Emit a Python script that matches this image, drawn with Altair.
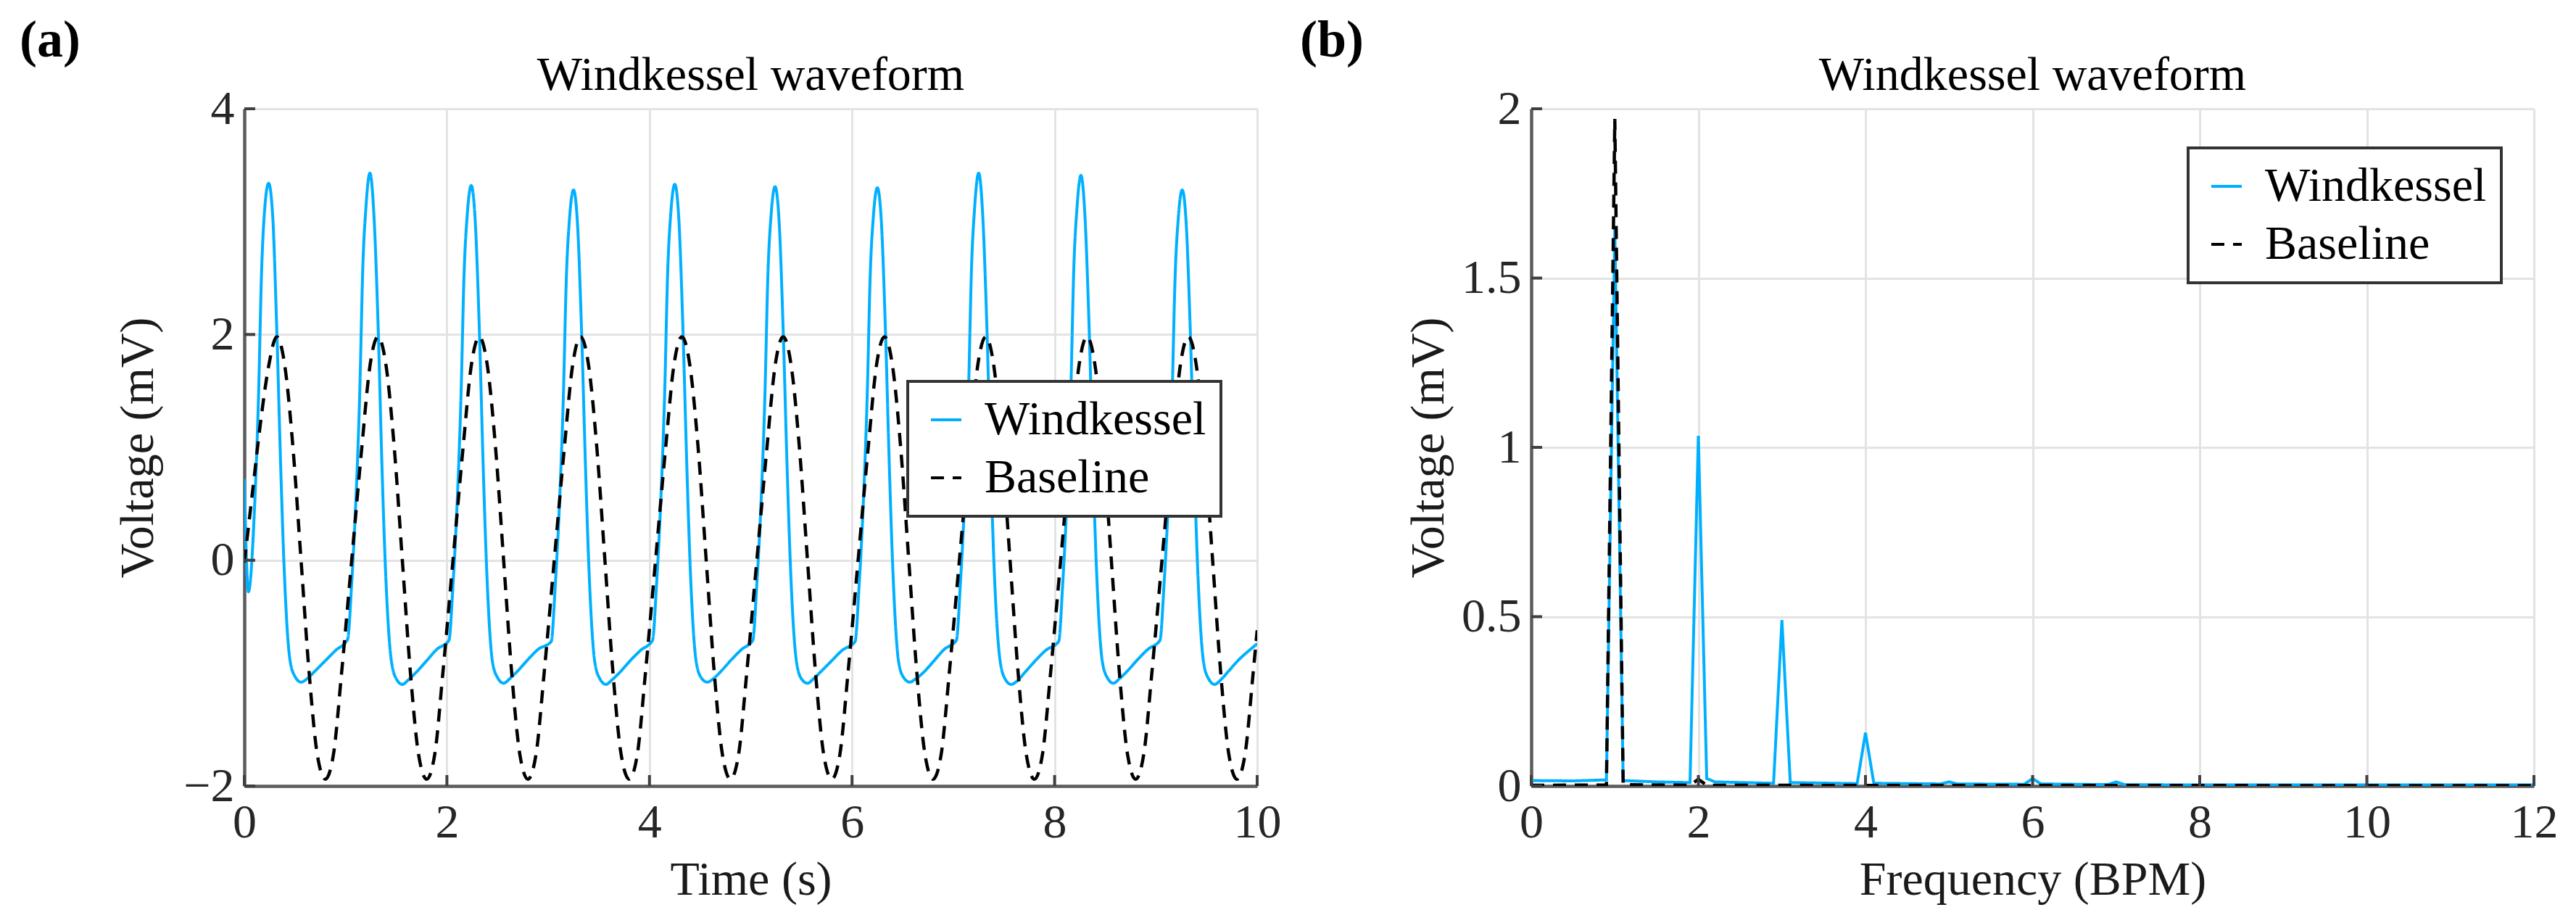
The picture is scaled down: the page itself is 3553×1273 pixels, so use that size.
import altair as alt
import pandas as pd

# ---------------- data ----------------
panel_labels = ["(a)", "(b)"]
panel_titles = ["Windkessel waveform", "Windkessel waveform"]
series_names = ["Windkessel", "Baseline"]

# (a) time-domain Windkessel waveform
wk_t = [0.00, 0.04, 0.10, 0.14, 0.17, 0.20, 0.24, 0.28, 0.32, 0.36, 0.39, 0.45, 0.50, 0.56, 0.62, 0.70, 0.80, 0.90,
        1.02, 1.06, 1.10, 1.14, 1.17, 1.20, 1.24, 1.28, 1.32, 1.36, 1.39, 1.45, 1.50, 1.56, 1.62, 1.70, 1.80, 1.90,
        2.02, 2.06, 2.10, 2.14, 2.17, 2.20, 2.24, 2.28, 2.32, 2.36, 2.39, 2.45, 2.50, 2.56, 2.62, 2.70, 2.80, 2.90,
        3.03, 3.07, 3.11, 3.15, 3.18, 3.21, 3.25, 3.29, 3.33, 3.37, 3.40, 3.46, 3.51, 3.57, 3.63, 3.71, 3.81, 3.91,
        4.03, 4.07, 4.11, 4.15, 4.18, 4.21, 4.25, 4.29, 4.33, 4.37, 4.40, 4.46, 4.51, 4.57, 4.63, 4.71, 4.81, 4.91,
        5.02, 5.06, 5.10, 5.14, 5.17, 5.20, 5.24, 5.28, 5.32, 5.36, 5.39, 5.45, 5.50, 5.56, 5.62, 5.70, 5.80, 5.90,
        6.03, 6.07, 6.11, 6.15, 6.18, 6.21, 6.25, 6.29, 6.33, 6.37, 6.40, 6.46, 6.51, 6.57, 6.63, 6.71, 6.81, 6.91,
        7.03, 7.07, 7.11, 7.15, 7.18, 7.21, 7.25, 7.29, 7.33, 7.37, 7.40, 7.46, 7.51, 7.57, 7.63, 7.71, 7.81, 7.91,
        8.04, 8.08, 8.12, 8.16, 8.19, 8.22, 8.26, 8.30, 8.34, 8.38, 8.41, 8.47, 8.52, 8.58, 8.64, 8.72, 8.82, 8.92,
        9.04, 9.08, 9.12, 9.16, 9.19, 9.22, 9.26, 9.30, 9.34, 9.38, 9.41, 9.47, 9.52, 9.58, 9.64, 9.72, 9.82, 9.92,
        10.00]
wk_v = [0.72, -0.28, 0.45, 1.45, 2.55, 3.10, 3.34, 3.05, 2.05, 0.80, 0.00, -0.88, -1.03, -1.08, -1.05, -0.98, -0.89, -0.80,
        -0.70, -0.20, 0.50, 1.50, 2.60, 3.12, 3.43, 3.05, 2.10, 0.80, 0.00, -0.88, -1.05, -1.10, -1.06, -0.99, -0.89, -0.79,
        -0.71, -0.22, 0.48, 1.48, 2.55, 3.05, 3.32, 3.00, 2.05, 0.78, -0.02, -0.90, -1.04, -1.09, -1.05, -0.98, -0.88, -0.79,
        -0.72, -0.22, 0.47, 1.46, 2.52, 3.02, 3.28, 2.97, 2.02, 0.78, -0.02, -0.90, -1.05, -1.10, -1.06, -0.99, -0.89, -0.80,
        -0.71, -0.21, 0.49, 1.48, 2.56, 3.07, 3.33, 3.02, 2.06, 0.80, -0.01, -0.89, -1.04, -1.08, -1.05, -0.98, -0.88, -0.79,
        -0.71, -0.21, 0.48, 1.47, 2.55, 3.05, 3.31, 3.00, 2.04, 0.79, -0.01, -0.89, -1.05, -1.09, -1.05, -0.98, -0.89, -0.80,
        -0.72, -0.22, 0.48, 1.47, 2.54, 3.04, 3.30, 2.99, 2.03, 0.78, -0.02, -0.90, -1.04, -1.08, -1.05, -0.99, -0.89, -0.79,
        -0.71, -0.20, 0.50, 1.50, 2.60, 3.12, 3.43, 3.06, 2.10, 0.82, 0.00, -0.88, -1.05, -1.10, -1.07, -0.99, -0.89, -0.80,
        -0.72, -0.21, 0.50, 1.50, 2.60, 3.11, 3.41, 3.04, 2.08, 0.81, 0.00, -0.89, -1.04, -1.09, -1.05, -0.98, -0.88, -0.79,
        -0.71, -0.22, 0.47, 1.46, 2.52, 3.02, 3.28, 2.97, 2.02, 0.78, -0.02, -0.90, -1.05, -1.10, -1.06, -0.98, -0.88, -0.80,
        -0.74]

# (a) time-domain baseline (dashed)
base_t = [0.00, 0.08, 0.16, 0.24, 0.32, 0.40, 0.48, 0.56, 0.64, 0.72, 0.80, 0.88, 0.96,
          1.06, 1.16, 1.24, 1.32, 1.40, 1.48, 1.56, 1.64, 1.72, 1.80, 1.88, 1.96,
          2.06, 2.16, 2.24, 2.32, 2.40, 2.48, 2.56, 2.64, 2.72, 2.80, 2.88, 2.96,
          3.06, 3.16, 3.24, 3.32, 3.40, 3.48, 3.56, 3.64, 3.72, 3.80, 3.88, 3.96,
          4.06, 4.16, 4.24, 4.32, 4.40, 4.48, 4.56, 4.64, 4.72, 4.80, 4.88, 4.96,
          5.06, 5.16, 5.24, 5.32, 5.40, 5.48, 5.56, 5.64, 5.72, 5.80, 5.88, 5.96,
          6.06, 6.16, 6.24, 6.32, 6.40, 6.48, 6.56, 6.64, 6.72, 6.80, 6.88, 6.96,
          7.06, 7.16, 7.24, 7.32, 7.40, 7.48, 7.56, 7.64, 7.72, 7.80, 7.88, 7.96,
          8.06, 8.16, 8.24, 8.32, 8.40, 8.48, 8.56, 8.64, 8.72, 8.80, 8.88, 8.96,
          9.06, 9.16, 9.24, 9.32, 9.40, 9.48, 9.56, 9.64, 9.72, 9.80, 9.88, 9.96,
          10.00]
base_v = [-0.02, 0.60, 1.22, 1.72, 1.98, 1.72, 1.00, 0.00, -1.00, -1.72, -1.94, -1.72, -1.00,
          0.00, 1.00, 1.72, 1.98, 1.72, 1.00, 0.00, -1.00, -1.72, -1.94, -1.72, -1.00,
          0.00, 1.00, 1.72, 1.98, 1.72, 1.00, 0.00, -1.00, -1.72, -1.94, -1.72, -1.00,
          0.00, 1.00, 1.72, 1.98, 1.72, 1.00, 0.00, -1.00, -1.72, -1.94, -1.72, -1.00,
          0.00, 1.00, 1.72, 1.98, 1.72, 1.00, 0.00, -1.00, -1.72, -1.94, -1.72, -1.00,
          0.00, 1.00, 1.72, 1.98, 1.72, 1.00, 0.00, -1.00, -1.72, -1.94, -1.72, -1.00,
          0.00, 1.00, 1.72, 1.98, 1.72, 1.00, 0.00, -1.00, -1.72, -1.94, -1.72, -1.00,
          0.00, 1.00, 1.72, 1.98, 1.72, 1.00, 0.00, -1.00, -1.72, -1.94, -1.72, -1.00,
          0.00, 1.00, 1.72, 1.98, 1.72, 1.00, 0.00, -1.00, -1.72, -1.94, -1.72, -1.00,
          0.00, 1.00, 1.72, 1.98, 1.72, 1.00, 0.00, -1.00, -1.72, -1.94, -1.72, -1.00,
          -0.62]

# (b) spectrum
wk_f = [0.0, 0.5, 0.9, 1.0, 1.1, 1.5, 1.9, 2.0, 2.1, 2.2, 2.9, 3.0, 3.1, 3.9, 4.0, 4.1,
        4.9, 5.0, 5.1, 5.9, 6.0, 6.1, 6.9, 7.0, 7.1, 8.0, 9.0, 10.0, 11.0, 12.0]
wk_mag = [0.016, 0.015, 0.018, 1.645, 0.016, 0.012, 0.010, 1.034, 0.022, 0.012, 0.008, 0.490, 0.010, 0.007, 0.157, 0.008,
          0.006, 0.012, 0.006, 0.005, 0.022, 0.006, 0.004, 0.012, 0.004, 0.003, 0.003, 0.003, 0.003, 0.003]
base_f = [0.0, 0.9, 1.0, 1.1, 1.9, 2.0, 2.1, 12.0]
base_mag = [0.002, 0.003, 1.97, 0.004, 0.002, 0.020, 0.002, 0.001]

# axis ticks
a_xticks = [0, 2, 4, 6, 8, 10]
a_yticks = [-2, 0, 2, 4]
b_xticks = [0, 2, 4, 6, 8, 10, 12]
b_yticks = [0, 0.5, 1, 1.5, 2]

# ---------------- styling ----------------
BLUE = "#00b0ff"
FONT = "Liberation Serif"
FS = 66
H = 934


def make_panel(wkx, wky, bx, by, xdom, ydom, xticks, yticks, w, xtitle, tag, title, tag_dx,
               legx, legy, ytitle_x):
    wk_df = pd.DataFrame({"x": wkx, "y": wky, "series": series_names[0]})
    base_df = pd.DataFrame({"x": bx, "y": by, "series": series_names[1]})
    yt_df = pd.DataFrame({"y": yticks})
    xt_df = pd.DataFrame({"x": xticks})
    tag_df = pd.DataFrame({"label": [tag]})
    title_df = pd.DataFrame({"label": [title]})

    xs = alt.Scale(domain=xdom, nice=False, zero=False)
    ys = alt.Scale(domain=ydom, nice=False, zero=False)
    leg = alt.Legend(title=None, orient="none", legendX=legx, legendY=legy,
                     symbolType="stroke", symbolSize=1764, symbolStrokeWidth=4,
                     labelFont=FONT, labelFontSize=FS, labelColor="#000000", labelLimit=2000,
                     labelOffset=20, padding=20, rowPadding=14,
                     strokeColor="#333333", fillColor="#ffffff")
    cscale = alt.Scale(domain=series_names, range=[BLUE, "#000000"])
    dscale = alt.Scale(domain=series_names, range=[[1, 0], [18, 12]])

    x_axis = alt.Axis(values=xticks, format="~f", labelPadding=18, labelFlush=False,
                      titleX=w / 2, titleY=149, titleBaseline="alphabetic", titleAlign="center")
    y_axis = alt.Axis(values=yticks, format="~f", labelPadding=14, labelFlush=False,
                      titleX=ytitle_x, titleY=H / 2, titleAngle=270,
                      titleBaseline="alphabetic", titleAlign="center")

    X = alt.X("x:Q", scale=xs, axis=x_axis, title=xtitle)
    Y = alt.Y("y:Q", scale=ys, axis=y_axis, title="Voltage (mV)")

    enc_common = dict(
        color=alt.Color("series:N", scale=cscale, legend=leg),
        strokeDash=alt.StrokeDash("series:N", scale=dscale, legend=leg),
    )
    interp = "monotone" if tag == "(a)" else "linear"
    wk_line = alt.Chart(wk_df).mark_line(strokeWidth=4, interpolate=interp, clip=True).encode(
        x=X, y=Y, **enc_common,
    )
    base_line = alt.Chart(base_df).mark_line(strokeWidth=4.5, interpolate=interp, clip=True).encode(
        x=X, y=Y, **enc_common,
    )
    ytick = alt.Chart(yt_df).mark_rule(color="#404040", strokeWidth=4).encode(
        y=Y, x=alt.value(0), x2=alt.value(15),
    )
    xtick = alt.Chart(xt_df).mark_rule(color="#404040", strokeWidth=4).encode(
        x=X, y=alt.value(H), y2=alt.value(H - 15),
    )
    tag_text = alt.Chart(tag_df).mark_text(font=FONT, fontSize=72, fontWeight="bold", align="left",
                                            baseline="alphabetic", color="#000000").encode(
        text="label:N", x=alt.value(tag_dx), y=alt.value(-72),
    )
    title_text = alt.Chart(title_df).mark_text(font=FONT, fontSize=FS, align="center",
                                                baseline="alphabetic", color="#000000").encode(
        text="label:N", x=alt.value(w / 2), y=alt.value(-26),
    )
    return alt.layer(wk_line, base_line, ytick, xtick, tag_text, title_text).properties(
        width=w, height=H,
    )


left = make_panel(wk_t, wk_v, base_t, base_v, [0, 10], [-2, 4], a_xticks, a_yticks, 1397,
                  "Time (s)", panel_labels[0], panel_titles[0], -310, 915, 376, -127)
right = make_panel(wk_f, wk_mag, base_f, base_mag, [0, 12], [0, 2], b_xticks, b_yticks, 1383,
                   "Frequency (BPM)", panel_labels[1], panel_titles[1], -319, 906, 54, -122)

chart = alt.hconcat(left, right, spacing=26).resolve_scale(
    color="independent", strokeDash="independent"
).resolve_legend(
    color="independent", strokeDash="independent"
).properties(
    padding={"left": 19, "top": 12, "right": 5, "bottom": 5}
).configure_view(strokeWidth=0).configure_legend(
    strokeWidth=4
).configure_axis(
    labelFont=FONT, labelFontSize=FS, labelColor="#262626",
    titleFont=FONT, titleFontSize=FS, titleFontWeight="normal", titleColor="#1a1a1a",
    domainColor="#5c5c5c", domainWidth=4.5, grid=True, gridColor="#e3e3e3", gridWidth=3,
    ticks=False,
)

chart.save("out.html", embed_options={"renderer": "svg", "actions": False})
